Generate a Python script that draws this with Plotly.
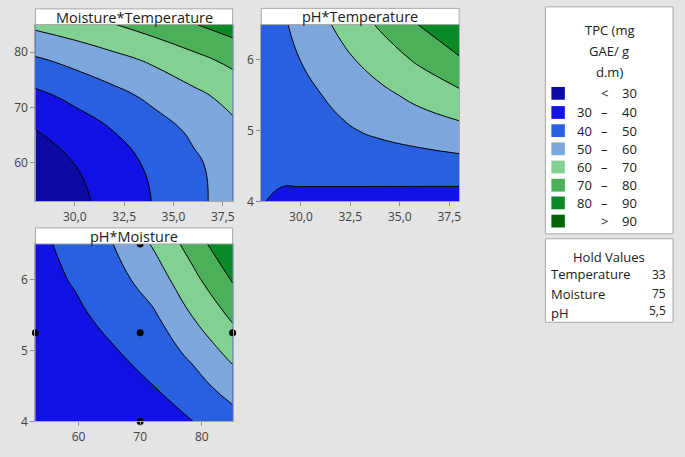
import plotly.graph_objects as go

W, H = 685, 457

# --- data (estimated TPC values on coarse grids) ---
temperature = [28, 30, 32, 34, 36, 38]
moisture = [53, 59.4, 65.8, 72.2, 78.6, 85]
# rows = moisture, cols = temperature (pH held at 5,5)
tpc_moist_temp = [
    [21.3, 27.4, 33.8, 40.4, 47.3, 54.4],
    [24.2, 29.8, 35.7, 41.8, 48.1, 54.7],
    [29.7, 34.8, 40.2, 45.8, 51.6, 57.6],
    [37.9, 42.5, 47.3, 52.4, 57.7, 63.2],
    [48.7, 52.8, 57.1, 61.6, 67.0, 72.5],
    [62.2, 65.7, 69.8, 74.5, 79.5, 84.5],
]

temperature_ph = [28, 29, 30, 32, 34, 36, 38]
ph_temp = [4, 4.25, 4.5, 5, 5.5, 6, 6.5]
# rows = pH, cols = temperature (moisture held at 75)
tpc_ph_temp = [
    [40.1, 39.68, 39.25, 38.4, 37.55, 36.7, 35.85],
    [40.05, 40.08, 40.15, 40.3, 40.45, 40.6, 40.75],
    [40.5, 41.08, 41.65, 42.8, 43.95, 45.1, 46.25],
    [41.2, 42.78, 44.35, 48.5, 51.8, 54.5, 56.95],
    [42.1, 44.68, 47.25, 52.4, 57.55, 62.7, 67.85],
    [43.0, 46.58, 50.15, 57.3, 64.45, 71.6, 78.75],
    [43.8, 48.38, 52.95, 62.1, 71.25, 80.4, 89.55],
]

moisture_ph = [53, 59.4, 65.8, 72.2, 78.6, 85]
ph_moist = [4, 4.5, 5, 5.5, 6, 6.5]
# rows = pH, cols = moisture (temperature held at 33)
tpc_ph_moist = [
    [31.0, 32.0, 33.5, 36.0, 40.0, 45.8],
    [32.3, 34.0, 36.5, 40.0, 46.1, 54.7],
    [33.6, 36.0, 39.5, 44.4, 52.8, 63.5],
    [35.0, 38.3, 43.0, 48.9, 60.6, 71.9],
    [36.5, 40.8, 46.5, 54.8, 67.4, 80.9],
    [37.5, 43.2, 50.2, 61.1, 74.5, 89.7],
]

# design points shown on the pH*Moisture panel
design_moisture = [53, 70, 85, 70]
design_ph = [5.25, 5.25, 5.25, 4]
top_point_moisture = [70]
top_point_ph = [6.5]

band_low = ["", "30", "40", "50", "60", "70", "80", ""]
band_sep = ["<", "–", "–", "–", "–", "–", "–", ">"]
band_high = ["30", "40", "50", "60", "70", "80", "90", "90"]
band_colors = ["#0b0ba4", "#1212e4", "#2860e0", "#7da7dc",
               "#82d193", "#4caf59", "#0a8a27", "#056407"]

hold_names = ["Temperature", "Moisture", "pH"]
hold_values = ["33", "75", "5,5"]

FONT = "Open Sans"


def px(x):
    return x / W


def py(y):
    return 1 - y / H


colorscale = [[i / 7, c] for i, c in enumerate(band_colors)]

fig = go.Figure()


def add_contour(x, y, z, xa, ya):
    fig.add_trace(go.Contour(
        x=x, y=y, z=z, xaxis=xa, yaxis=ya,
        autocontour=False,
        contours=dict(start=30, end=90, size=10, coloring="fill", showlines=True),
        line=dict(color="black", width=1, smoothing=1.3),
        colorscale=colorscale, showscale=False, hoverinfo="skip",
    ))


add_contour(temperature, moisture, tpc_moist_temp, "x", "y")
add_contour(temperature_ph, ph_temp, tpc_ph_temp, "x2", "y2")
add_contour(moisture_ph, ph_moist, tpc_ph_moist, "x3", "y3")

# points on the edges are drawn whole, except the one under the title box
fig.add_trace(go.Scatter(
    x=design_moisture, y=design_ph, xaxis="x3", yaxis="y3",
    mode="markers", marker=dict(color="black", size=7),
    cliponaxis=False, hoverinfo="skip", showlegend=False,
))
fig.add_trace(go.Scatter(
    x=top_point_moisture, y=top_point_ph, xaxis="x3", yaxis="y3",
    mode="markers", marker=dict(color="black", size=7),
    cliponaxis=True, hoverinfo="skip", showlegend=False,
))

axis_common = dict(
    showgrid=False, zeroline=False, showline=True, mirror=True,
    linecolor="#a8a8a8", linewidth=1, ticks="outside", ticklen=4,
    tickcolor="#909090", tickfont=dict(family=FONT, size=12, color="#404040"),
)

temp_ticks = [30, 32.5, 35, 37.5]

# panel boxes in pixels: (left, right, top, bottom)
p1 = (35.5, 233.3, 25, 205)
p2 = (262.1, 460.5, 25, 205)
p3 = (35.5, 233.3, 248.3, 429)


def dom(p):
    return [px(p[0]), px(p[1])], [py(p[3]), py(p[2])]


d1x, d1y = dom(p1)
d2x, d2y = dom(p2)
d3x, d3y = dom(p3)

fig.update_layout(
    width=W, height=H,
    margin=dict(l=0, r=0, t=0, b=0),
    paper_bgcolor="#e4e4e4",
    plot_bgcolor="#e4e4e4",
    separators=",.",
    showlegend=False,
    font=dict(family=FONT, color="#202020"),
    xaxis=dict(domain=d1x, anchor="y", range=[28, 38], tickvals=temp_ticks,
               tickformat=".1f", **axis_common),
    yaxis=dict(domain=d1y, anchor="x", range=[53, 85], tickvals=[60, 70, 80],
               **axis_common),
    xaxis2=dict(domain=d2x, anchor="y2", range=[28, 38], tickvals=temp_ticks,
                tickformat=".1f", **axis_common),
    yaxis2=dict(domain=d2y, anchor="x2", range=[4, 6.5], tickvals=[4, 5, 6],
                **axis_common),
    xaxis3=dict(domain=d3x, anchor="y3", range=[53, 85], tickvals=[60, 70, 80],
                **axis_common),
    yaxis3=dict(domain=d3y, anchor="x3", range=[4, 6.5], tickvals=[4, 5, 6],
                **axis_common),
)

shapes = []
annotations = []


def box(x0, x1, y0, y1):
    shapes.append(dict(type="rect", xref="paper", yref="paper",
                       x0=px(x0), x1=px(x1), y0=py(y1), y1=py(y0),
                       fillcolor="white", line=dict(color="#a8a8a8", width=1),
                       layer="above"))


def text(x, y, s, size=13, xanchor="center"):
    annotations.append(dict(xref="paper", yref="paper", x=px(x), y=py(y),
                            text=s, showarrow=False, xanchor=xanchor,
                            yanchor="middle",
                            font=dict(family=FONT, size=size, color="#202020")))


# panel title boxes
titles = ["Moisture*Temperature", "pH*Temperature", "pH*Moisture"]
for p, t, top in zip([p1, p2, p3], titles, [9, 8.5, 232]):
    box(p[0], p[1], top, p[2])
    text((p[0] + p[1]) / 2, (top + p[2]) / 2 + 0.5, t, size=14.5)

# legend box
box(547, 675, 7, 238)
text(611, 31, "TPC (mg", 13)
text(611, 52, "GAE/ g", 13)
text(611, 73, "d.m)", 13)
row_y = [95, 114.5, 133, 151.5, 170, 188.5, 206.5, 225]
for yy, c, lo, sep, hi in zip(row_y, band_colors, band_low, band_sep, band_high):
    shapes.append(dict(type="rect", xref="paper", yref="paper",
                       x0=px(553), x1=px(566.5), y0=py(yy + 6.5), y1=py(yy - 6.5),
                       fillcolor=c, line=dict(width=0), layer="above"))
    if lo:
        text(586.5, yy, lo, 13)
    text(606, yy, sep, 13)
    text(631, yy, hi, 13)

# hold values box
box(547, 675, 243, 328)
text(611, 262, "Hold Values", 13)
for yy, name, val in zip([279, 299, 319], hold_names, hold_values):
    text(551, yy, name, 13, xanchor="left")
    text(670, yy - (3 if val == "5,5" else 0), val, 12, xanchor="right")

fig.update_layout(shapes=shapes, annotations=annotations)

# drop the browser's default page margin so pixel positions line up
fig.write_html("out.html", config={"displayModeBar": False},
               post_script="document.body.style.margin='0';")
